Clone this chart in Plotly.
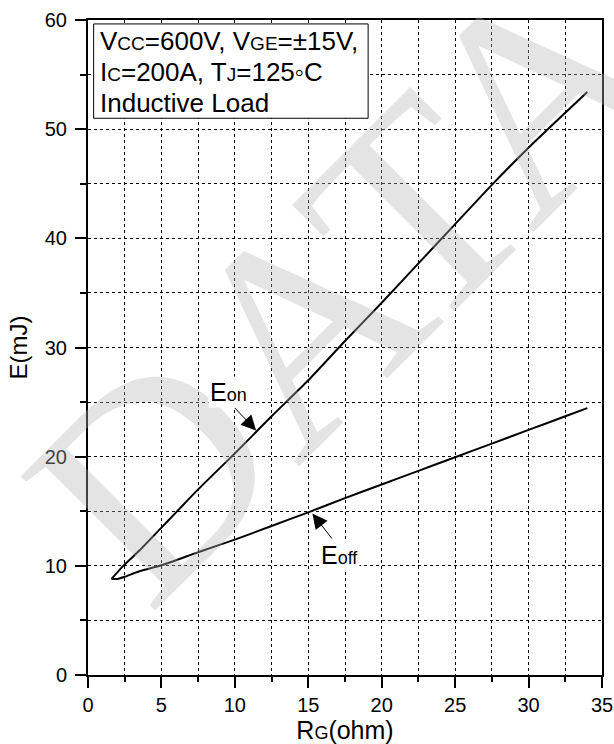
import plotly.graph_objects as go

# Switching energy vs gate resistance
rg_on = [1.6, 2.4, 3.5, 5, 6, 7.5, 10, 12.5, 15, 17.5, 20, 22.5, 25, 27.5, 30, 32.5, 34]
e_on = [8.8, 10.0, 11.4, 13.5, 14.9, 17.0, 20.3, 23.7, 27.0, 30.6, 34.1, 37.7, 41.3, 44.9, 48.3, 51.5, 53.4]

rg_off = [1.6, 2.0, 2.5, 3.5, 5, 7.5, 10, 12.5, 15, 17.5, 20, 22.5, 25, 27.5, 30, 32.5, 34]
e_off = [8.8, 8.8, 9.0, 9.5, 10.05, 11.25, 12.4, 13.65, 14.9, 16.2, 17.45, 18.7, 19.95, 21.2, 22.45, 23.7, 24.45]

FONT = "Liberation Sans, Arial, sans-serif"

fig = go.Figure()

fig.add_trace(go.Scatter(x=rg_on, y=e_on, mode="lines", line=dict(color="black", width=2, smoothing=0.6),
                         line_shape="spline", showlegend=False, hoverinfo="skip"))
fig.add_trace(go.Scatter(x=rg_off, y=e_off, mode="lines", line=dict(color="black", width=2, smoothing=0.6),
                         line_shape="spline", showlegend=False, hoverinfo="skip"))

# watermark
fig.add_annotation(text="DATA", xref="paper", yref="paper", x=0.50, y=0.60,
                   showarrow=False, textangle=-45,
                   font=dict(family="Liberation Serif, serif", size=290, color="rgba(180,180,180,0.36)"))

# condition box
fig.add_shape(type="rect", xref="paper", yref="paper", x0=0.011, x1=0.545, y0=0.850, y1=0.994,
              line=dict(color="black", width=1), fillcolor="white")
sc = "<span style='font-size:19px'>"
box_lines = [
    f"V{sc}CC</span>=600V, V{sc}GE</span>=±15V,",
    f"I{sc}C</span>=200A, T{sc}J</span>=125◦C",
    "Inductive Load",
]
line_y = [0.968, 0.921, 0.874]
for txt, yy in zip(box_lines, line_y):
    fig.add_annotation(text=txt, xref="paper", yref="paper", x=0.0185, y=yy,
                       xanchor="left", yanchor="middle", showarrow=False,
                       font=dict(family=FONT, size=26, color="black"))

# curve labels with arrows
fig.add_annotation(x=9.55, y=25.9, text="E<span style='font-size:18px'>on</span>", showarrow=False,
                   bgcolor="white", borderpad=1,
                   font=dict(family=FONT, size=25, color="black"))
fig.add_annotation(x=11.45, y=22.4, ax=9.9, ay=24.6, axref="x", ayref="y", text="",
                   showarrow=True, arrowhead=2, arrowsize=3, arrowwidth=1, arrowcolor="black")
fig.add_annotation(x=17.15, y=11.0, text="E<span style='font-size:18px'>off</span>", showarrow=False,
                   bgcolor="white", borderpad=1,
                   font=dict(family=FONT, size=25, color="black"))
fig.add_annotation(x=15.28, y=14.8, ax=16.69, ay=12.36, axref="x", ayref="y", text="",
                   showarrow=True, arrowhead=2, arrowsize=3, arrowwidth=1, arrowcolor="black")

axis_common = dict(
    showline=True, linecolor="black", linewidth=2, mirror=True,
    ticks="outside", ticklen=11, tickwidth=2, tickcolor="black",
    showgrid=True, gridcolor="black", gridwidth=1, griddash="dot",
    zeroline=False, automargin=False, tickfont=dict(family=FONT, size=20, color="black"),
)

fig.update_xaxes(range=[0, 35], dtick=5, tick0=0,
                 minor=dict(dtick=2.5, ticks="outside", ticklen=5, tickwidth=2, tickcolor="black",
                            showgrid=True, gridcolor="black", gridwidth=1, griddash="dot"),
                 title=dict(text="R<span style='font-size:18px'>G</span>(ohm)",
                            font=dict(family=FONT, size=25, color="black"), standoff=2),
                 **axis_common)
fig.update_yaxes(range=[0, 60], dtick=10, tick0=0, ticklabelstandoff=4,
                 minor=dict(dtick=5, ticks="outside", ticklen=6, tickwidth=2, tickcolor="black",
                            showgrid=True, gridcolor="black", gridwidth=1, griddash="dot"),
                 title=dict(text="E(mJ)", font=dict(family=FONT, size=24, color="black"), standoff=10),
                 **axis_common)

fig.update_layout(
    width=614, height=744,
    margin=dict(l=88, r=12, t=20, b=69),
    plot_bgcolor="white", paper_bgcolor="white",
)

# page body has a default 8px margin; drop it so the figure fills the window exactly
fig.write_html("out.html", config={"displayModeBar": False},
               post_script="document.body.style.margin='0';document.body.style.overflow='hidden';")
